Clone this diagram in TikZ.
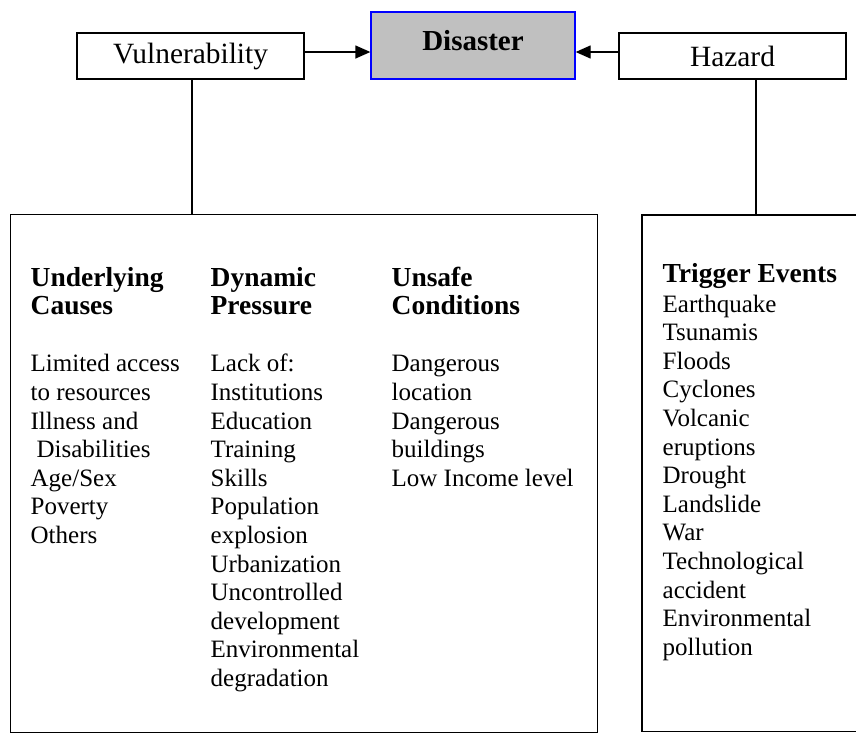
\documentclass[tikz,border=0pt]{standalone}
\usepackage{fontspec}
\setmainfont{Liberation Serif}
\usetikzlibrary{arrows.meta}
\definecolor{disgray}{HTML}{C0C0C0}
\definecolor{disblue}{HTML}{0000FF}
\newcommand{\bodyfont}{\fontsize{25}{28.6}\selectfont}
\newcommand{\headfont}{\fontsize{27.5}{28.6}\selectfont\bfseries}
\begin{document}
\begin{tikzpicture}[x=1pt,y=1pt,line width=1.3pt,
  topbox/.style={draw=black,inner sep=0pt,font=\fontsize{29.4}{32}\selectfont},
  colnode/.style={anchor=base west,inner sep=0pt,align=left},
  conn/.style={draw=black,line width=1.3pt},
  arr/.style={conn,-{Triangle[length=15pt,width=13pt]}}]
\useasboundingbox (0,0) rectangle (856,-734);
% top boxes
\node[topbox,minimum width=227pt,minimum height=46pt] (vul) at (190.5,-56) {Vulnerability};
\node[draw=disblue,fill=disgray,inner sep=0pt,minimum width=204pt,minimum height=67pt,
      text height=20pt,text depth=11pt,font=\fontsize{29}{32}\selectfont\bfseries] (dis) at (473,-45.5) {Disaster};
\node[topbox,minimum width=227pt,minimum height=46pt] (haz) at (732.5,-56) {Hazard};
% big boxes
\node[draw=black,inner sep=0pt,minimum width=587pt,minimum height=517.5pt,anchor=north west] (left) at (10,-214) {};
\coordinate (rtop) at (756,-215);
\draw[conn] (856,-215) -- (642,-215) -- (642,-731.5) -- (856,-731.5);
% connectors
\draw[arr] (vul.east |- 0,-52) -- (dis.west |- 0,-52);
\draw[arr] (haz.west |- 0,-52) -- (dis.east |- 0,-52);
\draw[conn] (192,-79) coordinate (vulfoot) -- (vulfoot |- left.north);
\draw[conn] (haz.south -| rtop) -- (rtop);
% columns
\node[colnode] (c1) at (30,-286) {\bodyfont\begin{tabular}[t]{@{}l@{}}
{\headfont Underlying}\\ {\headfont Causes}\\ \\
Limited access\\ to resources\\ Illness and\\ \hspace{6pt}Disabilities\\ Age/Sex\\ Poverty\\ Others
\end{tabular}};
\node[colnode] (c2) at (210,-286) {\bodyfont\begin{tabular}[t]{@{}l@{}}
{\headfont Dynamic}\\ {\headfont Pressure}\\ \\
Lack of:\\ Institutions\\ Education\\ Training\\ Skills\\ Population\\ explosion\\ Urbanization\\ Uncontrolled\\ development\\ Environmental\\ degradation
\end{tabular}};
\node[colnode] (c3) at (391,-286) {\bodyfont\begin{tabular}[t]{@{}l@{}}
{\headfont Unsafe}\\ {\headfont Conditions}\\ \\
Dangerous\\ location\\ Dangerous\\ buildings\\ Low Income level
\end{tabular}};
\node[colnode] (c4h) at (662,-282) {\headfont Trigger Events};
\node[colnode] (c4) at (662,-312) {\bodyfont\begin{tabular}[t]{@{}l@{}}
Earthquake\\ Tsunamis\\ Floods\\ Cyclones\\ Volcanic\\ eruptions\\ Drought\\ Landslide\\ War\\ Technological\\ accident\\ Environmental\\ pollution
\end{tabular}};
\end{tikzpicture}
\end{document}
